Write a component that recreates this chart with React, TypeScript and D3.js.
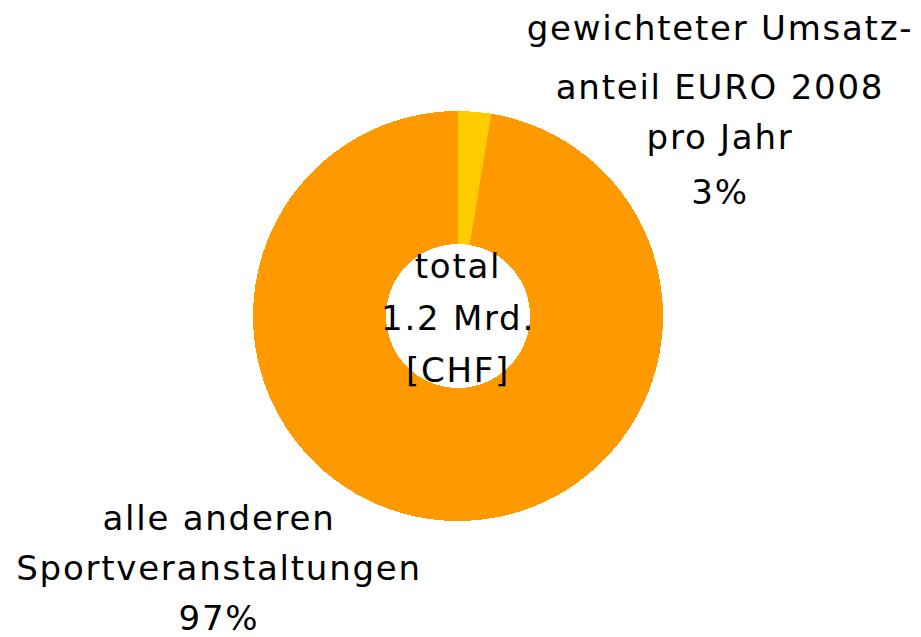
import React from "react";
import * as d3 from "d3";

const categories = ["gewichteter Umsatzanteil EURO 2008 pro Jahr", "alle anderen Sportveranstaltungen"];
const values = [2.6, 97.4];
const colors = ["#FFCC00", "#FF9900"];
const labelLines = [
  ["gewichteter Umsatz-", "anteil EURO 2008", "pro Jahr"],
  ["alle anderen", "Sportveranstaltungen"],
];
const centerLines = ["total", "1.2 Mrd.", "[CHF]"];

const W = 921;
const H = 637;

export default function App() {
  const cx = 458;
  const cy = 316;
  const pie = d3.pie<number>().sort(null).value((d) => d)(values);
  const arc = d3.arc<d3.PieArcDatum<number>>().innerRadius(72).outerRadius(205);
  const fmt = d3.format(".0f");
  const font = "'DejaVu Sans', Verdana, sans-serif";
  const fs = 34;
  const ls = 1.75;

  const topLabel = { x: 720, ys: [40, 99, 149, 204] };
  const botLabel = { x: 219, ys: [530, 580, 630] };

  return (
    <svg width={W} height={H} style={{ position: "absolute", left: 0, top: 0, background: "#fff" }}>
      <g transform={`translate(${cx},${cy})`} shapeRendering="crispEdges">
        {pie.map((p, i) => (
          <path key={categories[i]} d={arc(p) || ""} fill={colors[i]} />
        ))}
      </g>
      <g fontFamily={font} fontSize={fs} fill="#000" textAnchor="middle" letterSpacing={ls}>
        {centerLines.map((t, i) => (
          <text key={t} x={458} y={278 + i * 52}>{t}</text>
        ))}
        {[...labelLines[0], fmt(values[0]) + "%"].map((t, i) => (
          <text key={"a" + i} x={topLabel.x} y={topLabel.ys[i]}>{t}</text>
        ))}
        {[...labelLines[1], fmt(values[1]) + "%"].map((t, i) => (
          <text key={"b" + i} x={botLabel.x} y={botLabel.ys[i]}>{t}</text>
        ))}
      </g>
    </svg>
  );
}
